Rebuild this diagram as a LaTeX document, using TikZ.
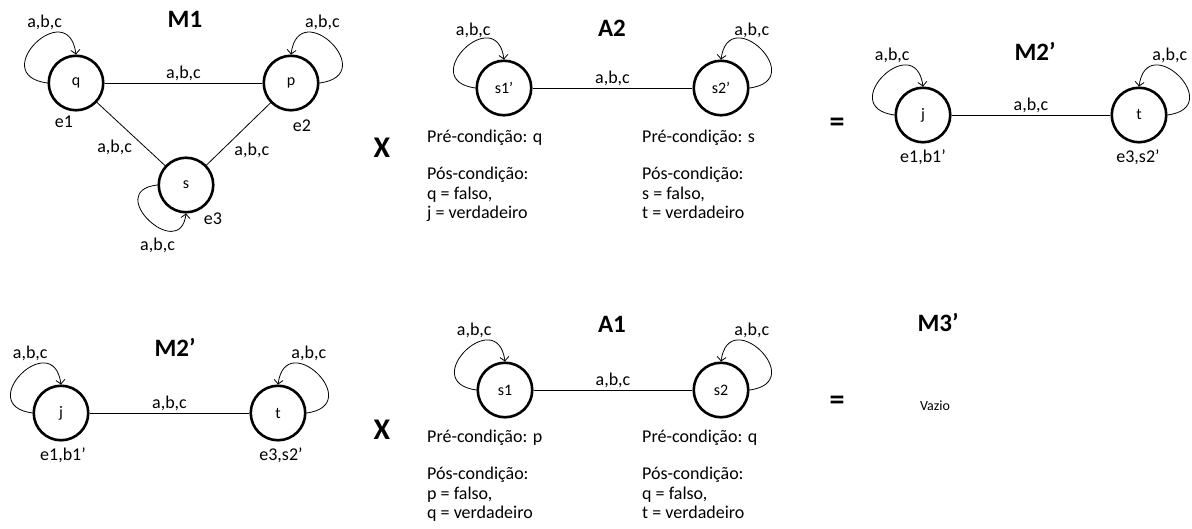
\documentclass[tikz,border=0pt]{standalone}
\usepackage{fontspec}
\setmainfont{Carlito}
\usetikzlibrary{arrows.meta}

\tikzset{
  state/.style={circle, draw, line width=2.6pt, minimum size=54.5pt, inner sep=0pt, font=\fontsize{16}{19}\selectfont},
  trans/.style={line width=0.8pt},
  selfloop/.style={line width=0.8pt, -{Straight Barb[length=4pt,width=9pt]}},
  lbl/.style={font=\fontsize{18}{21}\selectfont, inner sep=2pt},
  cond/.style={font=\fontsize{18}{19.5}\selectfont, inner sep=0pt, align=left},
  title/.style={font=\bfseries\fontsize{25}{28}\selectfont},
  op/.style={font=\bfseries\fontsize{30}{30}\selectfont},
}

\begin{document}
\begin{tikzpicture}[x=1pt, y=-1pt]
  \useasboundingbox (0,0) rectangle (1192,529);

  % M1
  \node[title] (m1) at (185,19) {M1};
  \node[state] (q) at (76,83) {q};
  \node[state] (p) at (291,83) {p};
  \node[state] (s) at (186,185) {s};
  \node[lbl] (e1) at (64,122) {e1};
  \node[lbl] (e2) at (302,126) {e2};
  \node[lbl] (e3) at (213,219) {e3};
  \draw[trans] (q) -- node[lbl, above] {a,b,c} (p);
  \draw[trans] (q) -- node[lbl, below left, pos=0.55] {a,b,c} (s);
  \draw[trans] (p) -- node[lbl, below right, pos=0.6] {a,b,c} (s);
  \draw[selfloop] (q.west) .. controls +(-62,-8) and +(-8,-60) .. (q.north) node[lbl, above=4pt, pos=0.6] {a,b,c};
  \draw[selfloop] (p.east) .. controls +(62,-8) and +(8,-60) .. (p.north) node[lbl, above=4pt, pos=0.6] {a,b,c};
  \draw[selfloop] (s.west) .. controls +(-55,6) and +(-6,50) .. (s.south) node[lbl, below=9pt, pos=0.6] {a,b,c};

  \node[op] (x1) at (382,148) {X};

  % A2
  \node[title] (a2) at (612,28) {A2};
  \node[state] (s1a) at (504,88) {s1’};
  \node[state] (s2a) at (721,88) {s2’};
  \draw[trans] (s1a) -- node[lbl, above] {a,b,c} (s2a);
  \draw[selfloop] (s1a.west) .. controls +(-60,-8) and +(-8,-58) .. (s1a.north) node[lbl, above=2pt, pos=0.6] {a,b,c};
  \draw[selfloop] (s2a.east) .. controls +(60,-8) and +(8,-58) .. (s2a.north) node[lbl, above=2pt, pos=0.6] {a,b,c};
  \node[cond, anchor=base west] (pre1) at (427,143) {Pré-condição: q};
  \node[cond, anchor=base west] (pre2) at (642,143) {Pré-condição: s};
  \node[cond, anchor=north west] (pos1) at (427,167) {Pós-condição:\\q = falso,\\j = verdadeiro};
  \node[cond, anchor=north west] (pos2) at (642,167) {Pós-condição:\\s = falso,\\t = verdadeiro};

  \node[op] (eq1) at (837,125) {=};

  % M2' (resultado)
  \node[title] (m2a) at (1035,51) {M2’};
  \node[state] (j) at (923,115) {j};
  \node[state] (t) at (1139,115) {t};
  \node[lbl] (e1b1) at (923,157) {e1,b1’};
  \node[lbl] (e3s2) at (1138,157) {e3,s2’};
  \draw[trans] (j) -- node[lbl, above] {a,b,c} (t);
  \draw[selfloop] (j.west) .. controls +(-60,-8) and +(-8,-58) .. (j.north) node[lbl, above=4pt, pos=0.6] {a,b,c};
  \draw[selfloop] (t.east) .. controls +(60,-8) and +(8,-58) .. (t.north) node[lbl, above=4pt, pos=0.6] {a,b,c};

  % M2' (segunda linha)
  \node[title] (m2b) at (175,347) {M2’};
  \node[state] (jb) at (61,413) {j};
  \node[state] (tb) at (278,413) {t};
  \node[lbl] (e1b1b) at (63,455) {e1,b1’};
  \node[lbl] (e3s2b) at (281,455) {e3,s2’};
  \draw[trans] (jb) -- node[lbl, above] {a,b,c} (tb);
  \draw[selfloop] (jb.west) .. controls +(-60,-8) and +(-8,-58) .. (jb.north) node[lbl, above=4pt, pos=0.6] {a,b,c};
  \draw[selfloop] (tb.east) .. controls +(60,-8) and +(8,-58) .. (tb.north) node[lbl, above=4pt, pos=0.6] {a,b,c};

  \node[op] (x2) at (382,430) {X};

  % A1
  \node[title] (a1) at (612,324) {A1};
  \node[state] (s1) at (505,390) {s1};
  \node[state] (s2) at (721,390) {s2};
  \draw[trans] (s1) -- node[lbl, above] {a,b,c} (s2);
  \draw[selfloop] (s1.west) .. controls +(-60,-8) and +(-8,-58) .. (s1.north) node[lbl, above=4pt, pos=0.6] {a,b,c};
  \draw[selfloop] (s2.east) .. controls +(60,-8) and +(8,-58) .. (s2.north) node[lbl, above=4pt, pos=0.6] {a,b,c};
  \node[cond, anchor=base west] (pre3) at (427,442) {Pré-condição: p};
  \node[cond, anchor=base west] (pre4) at (642,442) {Pré-condição: q};
  \node[cond, anchor=north west] (pos3) at (427,467) {Pós-condição:\\p = falso,\\q = verdadeiro};
  \node[cond, anchor=north west] (pos4) at (642,467) {Pós-condição:\\q = falso,\\t = verdadeiro};

  \node[op] (eq2) at (837,403) {=};

  % M3'
  \node[title] (m3) at (938,322) {M3’};
  \node[font=\fontsize{14}{16}\selectfont] (vazio) at (935,406) {Vazio};
\end{tikzpicture}
\end{document}
